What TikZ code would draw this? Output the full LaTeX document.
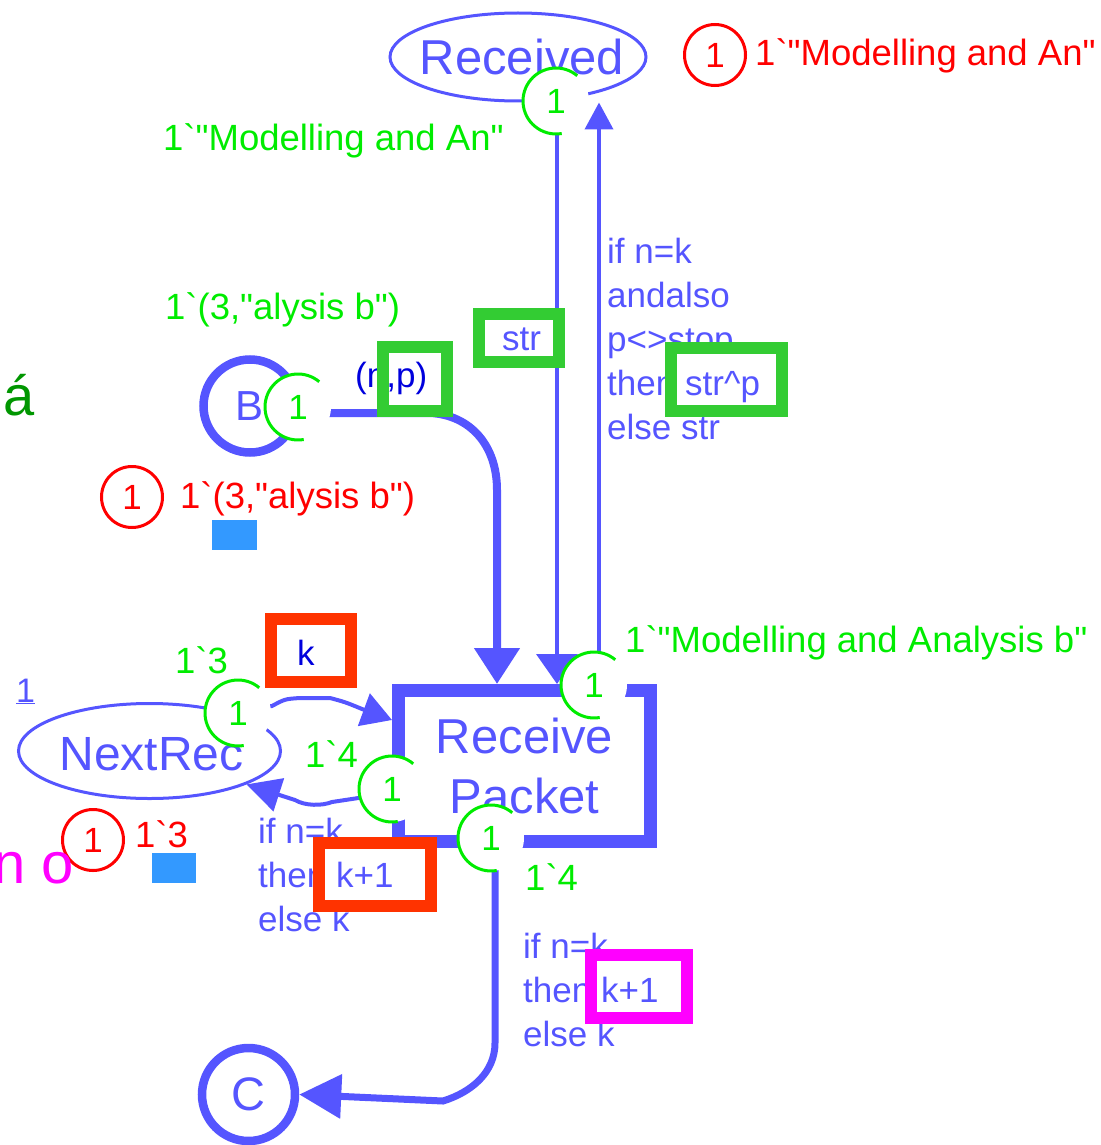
\documentclass[tikz,border=0pt]{standalone}
\usepackage{fontspec}
\setmainfont{Liberation Sans}[Ligatures=TeXOff]
\usetikzlibrary{shapes.geometric,arrows.meta}

\definecolor{netblue}{RGB}{85,85,255}
\definecolor{inkblue}{RGB}{0,0,221}
\definecolor{tokgreen}{RGB}{0,236,0}
\definecolor{hlgreen}{RGB}{51,204,51}
\definecolor{tokred}{RGB}{255,0,0}
\definecolor{hlred}{RGB}{255,51,0}
\definecolor{hlmag}{RGB}{255,0,255}
\definecolor{markblue}{RGB}{51,153,255}
\definecolor{accgreen}{RGB}{0,150,0}

\newcommand{\setfs}[2]{\fontsize{#1}{#2}\selectfont}
% green token-count marker: white disc with a partial green ring
\newcommand{\gtok}[2]{%
  \node[tok] (#1) at (#2) {1};
  \draw[tokring] ([shift={(50:33pt)}]#1.center) arc[start angle=50,end angle=280,radius=33pt];}

\begin{document}
\begin{tikzpicture}[x=1pt,y=-1pt,
  ellplace/.style={ellipse,draw=netblue,line width=3pt,inner sep=0pt},
  circplace/.style={circle,draw=netblue,text=netblue,line width=8.5pt,minimum size=93pt,inner sep=0pt},
  transbox/.style={rectangle,draw=netblue,text=netblue,line width=13pt,minimum width=252pt,
    minimum height=151pt,inner sep=0pt,align=center,font=\setfs{49}{60}},
  arc/.style={draw=netblue,line width=4pt},
  tok/.style={circle,fill=white,minimum size=66pt,inner sep=0pt,text=tokgreen,font=\setfs{35}{40}},
  tokring/.style={draw=tokgreen,line width=3pt},
  redtok/.style={circle,draw=tokred,line width=3pt,minimum size=61pt,inner sep=0pt,text=tokred,font=\setfs{35}{40}},
  lab/.style={anchor=base west,inner sep=0pt,font=\setfs{36.5}{44}},
  greenlab/.style={lab,text=tokgreen},
  redlab/.style={lab,text=tokred},
  insc/.style={anchor=base west,inner sep=0pt,align=left,text=netblue,font=\setfs{35}{44}},
  hibox/.style={line width=12pt}
]
\useasboundingbox (0,0) rectangle (1100,1145);
\clip (0,0) rectangle (1100,1145);

% places and transition
\node[ellplace,minimum width=256pt,minimum height=88pt] (recv) at (518,57) {};
\node[ellplace,minimum width=262pt,minimum height=95pt] (nextrec) at (149.5,751) {};
\node[circplace,font=\setfs{42}{42}] (B) at (250,406) {B};
\node[circplace,font=\setfs{47}{47}] (C) at (248.5,1094.5) {C};
\node[transbox] (trans) at (524.5,766) {Receive\\Packet};

\node[text=netblue,inner sep=0pt,font=\setfs{49}{49}] (recvname) at ([xshift=4pt]recv.center) {Received};
\node[text=netblue,inner sep=0pt,font=\setfs{48}{48}] (nextname) at ([xshift=2pt,yshift=-3pt]nextrec.center) {NextRec};

% arcs
\draw[arc,line width=8pt,-{Triangle[length=36pt,width=44pt]}]
  (B.-8) -- (430,413) .. controls (470,415) and (497,445) .. (497,490)
  -- ([xshift=105pt]trans.north west);
\draw[arc,-{Triangle[length=30pt,width=41pt]}]
  ([xshift=39pt]recv.south) -- ([xshift=165pt]trans.north west);
\draw[arc,-{Triangle[length=27pt,width=28pt]}]
  ([xshift=207pt]trans.north west) -- ([xshift=81pt]recv.south);
\draw[arc,-{Triangle[length=30pt,width=34pt]}]
  (nextrec.35) -- (272,706) .. controls (285,699) .. (300,698) -- (330,698)
  .. controls (345,702) .. (362,709) -- ([yshift=46pt]trans.west);
\draw[arc,-{Triangle[length=34pt,width=34pt]}]
  ([yshift=-30pt]trans.west) -- (365,797) -- (332,802)
  .. controls (322,806) and (305,806) .. (295,800) -- (nextrec.-19);
\draw[arc,line width=7pt,-{Triangle[length=42pt,width=43pt]}]
  ([xshift=103pt]trans.south west) -- (495,1043)
  .. controls (495,1072) and (472,1092) .. (443,1101) -- (C.east);

% arc inscriptions (anchored at the baseline of their last line);
% the framed parts are set separately, on top of their frames
\node[insc] (insrecv) at (607,439) {if n=k\\andalso\\p<>stop\\then \phantom{str\textasciicircum p}\\else str};
\node[insc] (insstr) at (502,350) {str};
\node[insc,text=inkblue] (insnp) at (355,387) {(n,p)};
\node[insc,text=inkblue] (insk) at (297,665) {k};
\node[insc] (insnext) at (258,931) {if n=k\\then \phantom{k+1}\\else k};
\node[insc] (insc) at (523,1046) {if n=k\\then \phantom{k+1}\\else k};

% highlight frames
\draw[hibox,draw=hlgreen] (479,314) rectangle (559,362);
\draw[hibox,draw=hlgreen,fill=white] (671,348) rectangle (782,411);
\node[insc] (hlstrp) at (685,395) {str\textasciicircum p};
\draw[hibox,draw=hlgreen] (383,347) rectangle (447,411);
\draw[hibox,draw=hlred] (271,619) rectangle (351,682);
\draw[hibox,draw=hlred,fill=white] (319,843) rectangle (431,906);
\node[insc] (hlk1) at (336,887) {k+1};
\draw[hibox,draw=hlmag,fill=white] (591,955) rectangle (687,1018);
\node[insc] (hlk2) at (601,1002) {k+1};

% token markers
\gtok{t1}{556,101}
\gtok{t2}{298,407}
\gtok{t3}{238,713}
\gtok{t4}{392,789}
\gtok{t5}{594,685}
\gtok{t6}{491,838}

% marking labels
\node[greenlab] (g1) at (163,150) {1`"Modelling and An"};
\node[greenlab] (g2) at (165,319) {1`(3,"alysis b")};
\node[greenlab] (g3) at (175,673) {1`3};
\node[greenlab] (g4) at (305,767) {1`4};
\node[greenlab] (g5) at (625,652) {1`"Modelling and Analysis b"};
\node[greenlab] (g6) at (525,890) {1`4};

\node[redtok] (r1) at (715,55) {1};
\node[redtok] (r2) at (132,497) {1};
\node[redtok] (r3) at (93,840) {1};
\node[redlab] (rl1) at (755,66) {1`"Modelling and An"};
\node[redlab] (rl2) at (180,508) {1`(3,"alysis b")};
\node[redlab] (rl3) at (135,847) {1`3};

\fill[markblue] (212,520) rectangle (257,550);
\fill[markblue] (152,853) rectangle (196,883);

\node[anchor=base west,inner sep=0pt,text=netblue,font=\setfs{34}{34}] (one) at (16,702) {\underline{1}};
\node[anchor=base west,inner sep=0pt,text=accgreen,font=\setfs{56}{56}] (acc) at (3,415) {á};
\node[anchor=base west,inner sep=0pt,text=hlmag,font=\setfs{58}{58}] (nos) at (-7,883) {n o};
\end{tikzpicture}
\end{document}
